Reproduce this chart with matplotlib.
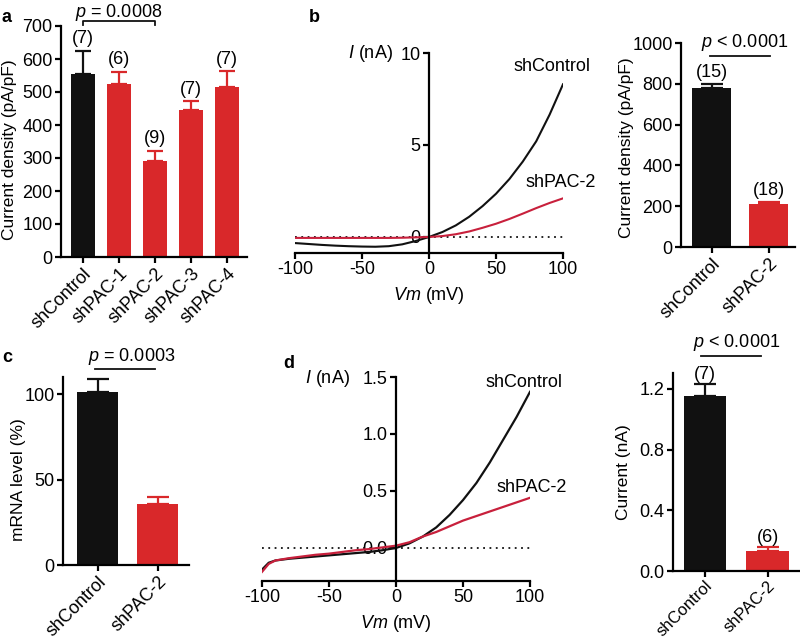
import matplotlib
matplotlib.use("Agg")
import matplotlib.pyplot as plt

plt.rcParams['font.family'] = ['Liberation Sans', 'DejaVu Sans']
plt.rcParams['mathtext.fontset'] = 'custom'
plt.rcParams['mathtext.rm'] = 'Liberation Sans'
plt.rcParams['mathtext.it'] = 'Liberation Sans:italic'
plt.rcParams['axes.unicode_minus'] = False
FS = 13
plt.rcParams['font.size'] = FS

BLACK = '#111111'
RED = '#d9282a'
LRED = '#c8203c'

# panel a
a_groups = ['shControl', 'shPAC-1', 'shPAC-2', 'shPAC-3', 'shPAC-4']
a_mean = [555, 525, 290, 445, 515]
a_sem = [70, 37, 32, 27, 48]
a_n = ['(7)', '(6)', '(9)', '(7)', '(7)']

# panel b, I-V curves
b_vm = [-100, -90, -80, -70, -60, -50, -40, -30, -20, -10, 0,
        10, 20, 30, 40, 50, 60, 70, 80, 90, 100]
b_ctrl = [-0.33, -0.38, -0.43, -0.47, -0.50, -0.52, -0.53, -0.50, -0.40, -0.22, 0.0,
          0.27, 0.63, 1.1, 1.68, 2.35, 3.15, 4.1, 5.2, 6.65, 8.3]
b_pac2 = [-0.05, -0.05, -0.05, -0.05, -0.05, -0.05, -0.05, -0.05, -0.04, -0.02, 0.0,
          0.05, 0.15, 0.3, 0.5, 0.72, 0.98, 1.27, 1.57, 1.85, 2.1]

# panel b, bars
b2_groups = ['shControl', 'shPAC-2']
b2_mean = [778, 213]
b2_sem = [22, 8]
b2_n = ['(15)', '(18)']

# panel c
c_groups = ['shControl', 'shPAC-2']
c_mean = [101, 35.5]
c_sem = [8, 4]

# panel d, I-V curves
d_vm = [-100, -95, -90, -80, -70, -60, -50, -40, -30, -20, -10, 0,
        10, 20, 30, 40, 50, 60, 70, 80, 90, 100]
d_ctrl = [-0.19, -0.13, -0.11, -0.095, -0.085, -0.075, -0.065, -0.055, -0.045, -0.035, -0.02, 0.0,
          0.04, 0.1, 0.18, 0.29, 0.42, 0.57, 0.75, 0.95, 1.15, 1.37]
d_pac2 = [-0.21, -0.14, -0.11, -0.09, -0.075, -0.06, -0.05, -0.035, -0.02, -0.01, 0.005, 0.02,
          0.05, 0.1, 0.14, 0.19, 0.24, 0.28, 0.32, 0.36, 0.40, 0.44]

# panel d, bars
d2_groups = ['shControl', 'shPAC-2']
d2_mean = [1.155, 0.132]
d2_sem = [0.08, 0.027]
d2_n = ['(7)', '(6)']

W, H = 800, 642
fig = plt.figure(figsize=(W / 100, H / 100), dpi=100)


def add_ax(left, top, right, bottom):
    ax = fig.add_axes([left / W, 1 - bottom / H, (right - left) / W, (bottom - top) / H])
    ax.px = (left, top, right, bottom)
    return ax


def label_at(axis, ax, px, py):
    # place an axis label anchor at a pixel position
    l, t, r, b = ax.px
    axis.set_label_coords((px - l) / (r - l), (b - py) / (b - t))


def style(ax):
    for s in ['top', 'right']:
        ax.spines[s].set_visible(False)
    for s in ['left', 'bottom']:
        ax.spines[s].set_linewidth(1.6)
    ax.tick_params(width=1.6, length=4, labelsize=FS, direction='out', pad=2)


def bars(ax, groups, mean, sem, cap, fs=FS):
    x = list(range(len(groups)))
    cols = [BLACK] + [RED] * (len(groups) - 1)
    ax.bar(x, mean, width=0.68, color=cols, zorder=2)
    for i in x:
        ax.errorbar(i, mean[i], yerr=[[0], [sem[i]]], color=cols[i], capsize=cap,
                    capthick=1.6, elinewidth=1.6, zorder=1)
    style(ax)
    ax.set_xticks(x)
    ax.set_xticklabels(groups, rotation=45, ha='right', rotation_mode='anchor', fontsize=fs)
    return x


# ---- a
ax = add_ax(61, 26, 247, 257)
x = bars(ax, a_groups, a_mean, a_sem, 6)
ax.set_xlim(-0.61, 4.56)
ax.set_ylim(0, 700)
ax.set_yticks(range(0, 701, 100))
ax.set_ylabel('Current density (pA/pF)', fontsize=12.5)
label_at(ax.yaxis, ax, 17, 150)
for i in x:
    ax.text(i, a_mean[i] + a_sem[i] + 10, a_n[i], ha='center', va='bottom', fontsize=FS)
ax.plot([0, 0, 2, 2], [703, 716, 716, 703], color=BLACK, lw=1.3, clip_on=False)
fig.text(119 / W, 1 - 2 / H, r'$\it{p}$ = 0.0008', ha='center', va='top', fontsize=FS)
fig.text(2 / W, 1 - 17 / H, 'a', fontsize=13, fontweight='bold', va='center')

# ---- b I-V
ax = add_ax(295, 53, 563, 253)
ax.plot([-100, 100], [0, 0], ls=(0, (1, 2.5)), color=BLACK, lw=1.3)
ax.plot(b_vm, b_ctrl, color=BLACK, lw=1.5)
ax.plot(b_vm, b_pac2, color=LRED, lw=1.5)
ax.set_xlim(-100, 100)
ax.set_ylim(-0.87, 10)
style(ax)
ax.spines['left'].set_position(('data', 0))
ax.spines['left'].set_bounds(-0.87, 10)
ax.set_xticks([-100, -50, 0, 50, 100])
ax.set_yticks([0, 5, 10])
ax.set_xlabel(r'$\it{Vm}$ (mV)', fontsize=FS)
label_at(ax.xaxis, ax, 429, 285)
ax.text(-44, 10, r'$\it{I}$ (nA)', ha='center', va='center', fontsize=FS)
ax.text(92, 8.8, 'shControl', ha='center', va='bottom', fontsize=FS)
ax.text(98, 2.5, 'shPAC-2', ha='center', va='bottom', fontsize=FS)
fig.text(309 / W, 1 - 17 / H, 'b', fontsize=13, fontweight='bold', va='center')

# ---- b bars
ax = add_ax(681, 43, 795, 247)
x = bars(ax, b2_groups, b2_mean, b2_sem, 8)
ax.set_xlim(-0.54, 1.46)
ax.set_ylim(0, 1000)
ax.set_yticks(range(0, 1001, 200))
ax.set_ylabel('Current density (pA/pF)', fontsize=12.5)
label_at(ax.yaxis, ax, 634, 148)
for i in x:
    ax.text(i, b2_mean[i] + b2_sem[i] + 12, b2_n[i], ha='center', va='bottom', fontsize=FS)
ax.plot([-0.04, 1.02], [936, 936], color=BLACK, lw=1.3, clip_on=False)
ax.text(0.58, 950, r'$\it{p}$ < 0.0001', ha='center', va='bottom', fontsize=FS)

# ---- c
ax = add_ax(63, 377, 189, 565)
x = bars(ax, c_groups, c_mean, c_sem, 8)
ax.set_xlim(-0.58, 1.52)
ax.set_ylim(0, 110)
ax.set_yticks([0, 50, 100])
ax.set_ylabel('mRNA level (%)', fontsize=12.5)
label_at(ax.yaxis, ax, 26, 480)
ax.plot([-0.05, 0.95], [114.6, 114.6], color=BLACK, lw=1.3, clip_on=False)
ax.text(0.57, 116, r'$\it{p}$ = 0.0003', ha='center', va='bottom', fontsize=FS)
fig.text(2 / W, 1 - 357 / H, 'c', fontsize=13, fontweight='bold', va='center')

# ---- d I-V
ax = add_ax(262, 377, 530, 581)
ax.plot([-100, 100], [0, 0], ls=(0, (1, 2.5)), color=BLACK, lw=1.3)
ax.plot(d_vm, d_ctrl, color=BLACK, lw=1.6)
ax.plot(d_vm, d_pac2, color=LRED, lw=1.6)
ax.set_xlim(-100, 100)
ax.set_ylim(-0.29, 1.5)
style(ax)
ax.spines['left'].set_position(('data', 0))
ax.spines['left'].set_bounds(-0.29, 1.5)
ax.set_xticks([-100, -50, 0, 50, 100])
ax.set_yticks([0, 0.5, 1.0, 1.5])
ax.set_yticklabels(['0.0', '0.5', '1.0', '1.5'])
ax.set_xlabel(r'$\it{Vm}$ (mV)', fontsize=FS)
label_at(ax.xaxis, ax, 396, 613)
ax.text(-51, 1.49, r'$\it{I}$ (nA)', ha='center', va='center', fontsize=FS)
ax.text(95.5, 1.45, 'shControl', ha='center', va='center', fontsize=FS)
ax.text(101, 0.53, 'shPAC-2', ha='center', va='center', fontsize=FS)
fig.text(283 / W, 1 - 363 / H, 'd', fontsize=13, fontweight='bold', va='center')

# ---- d bars
ax = add_ax(673, 373, 799, 571)
x = bars(ax, d2_groups, d2_mean, d2_sem, 8, fs=12)
ax.tick_params(axis='x', pad=1)
ax.set_xlim(-0.51, 1.5)
ax.set_ylim(0, 1.305)
ax.set_yticks([0, 0.4, 0.8, 1.2])
ax.set_yticklabels(['0.0', '0.4', '0.8', '1.2'])
ax.set_ylabel('Current (nA)', fontsize=12.5)
label_at(ax.yaxis, ax, 631, 472)
for i in x:
    ax.text(i, d2_mean[i] + d2_sem[i] + 0.005, d2_n[i], ha='center', va='bottom', fontsize=FS)
ax.plot([-0.06, 0.9], [1.42, 1.42], color=BLACK, lw=1.3, clip_on=False)
ax.text(0.5, 1.435, r'$\it{p}$ < 0.0001', ha='center', va='bottom', fontsize=FS)

fig.savefig('out.png', dpi=100)
